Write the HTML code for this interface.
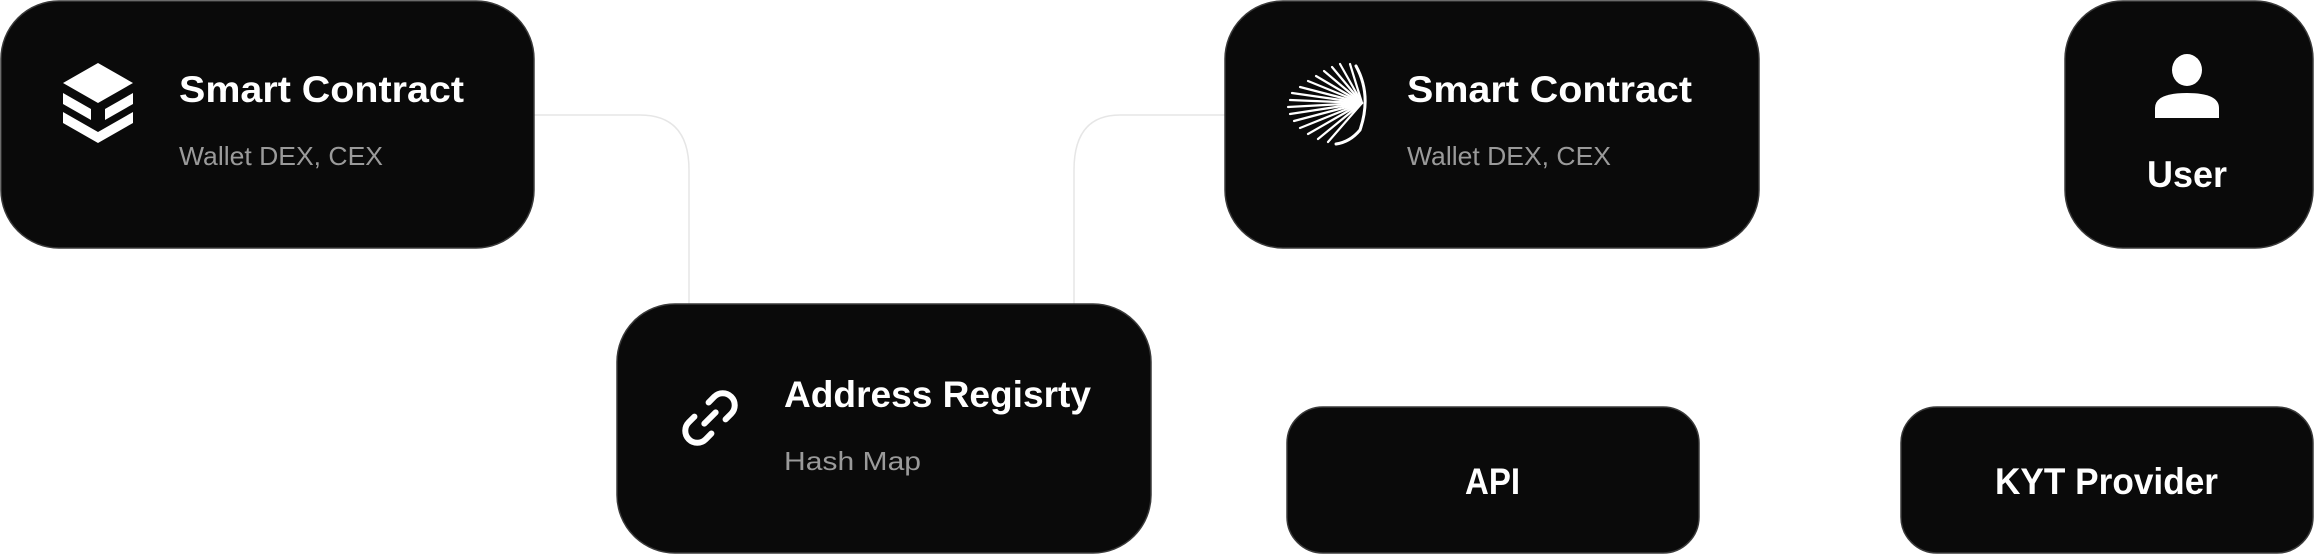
<!DOCTYPE html>
<html><head><meta charset="utf-8"><style>
html,body{margin:0;padding:0;background:#fff;}
svg{display:block;}
text{font-family:"Liberation Sans",sans-serif;}
.t{fill:#fff;font-size:37px;font-weight:bold;}
.s{fill:#9a9a9a;font-size:26px;}
</style></head><body>
<svg width="2314" height="554" viewBox="0 0 2314 554" xmlns="http://www.w3.org/2000/svg">
<!-- connectors -->
<path d="M534 115 H640 Q689 115 689 170 V304" fill="none" stroke="#e6e6e6" stroke-width="1.5"/>
<path d="M1225 115 H1120 Q1074 115 1074 170 V304" fill="none" stroke="#e6e6e6" stroke-width="1.5"/>
<!-- boxes -->
<g fill="#0a0a0a" stroke="#3a3a3a" stroke-width="1.5">
<rect x="1" y="1" width="533" height="247" rx="58"/>
<rect x="617" y="304" width="534" height="249" rx="58"/>
<rect x="1225" y="1" width="534" height="247" rx="58"/>
<rect x="2065" y="1" width="248" height="247" rx="58"/>
<rect x="1287" y="407" width="412" height="146" rx="36"/>
<rect x="1901" y="407" width="412" height="146" rx="36"/>
</g>
<!-- icon 1: layers -->
<g fill="#fff">
<polygon points="98,63 133,83 98,103 63,83"/>
<polygon points="63,93 91,109 91,120 63,104"/>
<polygon points="133,93 105,109 105,120 133,104"/>
<polygon points="63,112 98,132 133,112 133,123 98,143 63,123"/>
</g>
<!-- icon 2: sunburst -->
<g stroke="#fff" stroke-width="2.2" stroke-linecap="round">
<line x1="1362" y1="103" x2="1350" y2="64"/>
<line x1="1362" y1="103" x2="1340" y2="64"/>
<line x1="1362" y1="103" x2="1332" y2="67"/>
<line x1="1362" y1="103" x2="1324" y2="71"/>
<line x1="1362" y1="103" x2="1316" y2="76"/>
<line x1="1362" y1="103" x2="1308" y2="81"/>
<line x1="1362" y1="103" x2="1300" y2="87"/>
<line x1="1362" y1="103" x2="1292" y2="93"/>
<line x1="1362" y1="103" x2="1290" y2="100"/>
<line x1="1362" y1="103" x2="1288" y2="107"/>
<line x1="1362" y1="103" x2="1290" y2="114"/>
<line x1="1362" y1="103" x2="1294" y2="121"/>
<line x1="1362" y1="103" x2="1300" y2="128"/>
<line x1="1362" y1="103" x2="1308" y2="134"/>
<line x1="1362" y1="103" x2="1318" y2="139"/>
<line x1="1362" y1="103" x2="1328" y2="142"/>
<path d="M1356 66 Q1372 95 1360 130 Q1350 142 1336 144" fill="none" stroke-width="3"/>
</g>
<!-- icon 3: link -->
<g fill="none" stroke="#fff" stroke-width="6" stroke-linecap="round" transform="rotate(-45 710 418)">
<path d="M700 406 H692 A12 12 0 0 0 692 430 H700"/>
<path d="M720 406 H728 A12 12 0 0 1 728 430 H720"/>
<line x1="702" y1="418" x2="718" y2="418"/>
</g>
<!-- icon 4: user -->
<g fill="#fff">
<ellipse cx="2187" cy="70" rx="15" ry="16"/>
<path d="M2155 118 V108 Q2155 93 2187 93 Q2219 93 2219 108 V118 Z"/>
</g>
<!-- text -->
<text class="t" x="179" y="102" textLength="285" lengthAdjust="spacingAndGlyphs">Smart Contract</text>
<text class="s" x="179" y="165" textLength="204" lengthAdjust="spacingAndGlyphs">Wallet DEX, CEX</text>
<text class="t" x="1407" y="102" textLength="285" lengthAdjust="spacingAndGlyphs">Smart Contract</text>
<text class="s" x="1407" y="165" textLength="204" lengthAdjust="spacingAndGlyphs">Wallet DEX, CEX</text>
<text class="t" x="784" y="407" textLength="307" lengthAdjust="spacingAndGlyphs">Address Regisrty</text>
<text class="s" x="784" y="470" textLength="137" lengthAdjust="spacingAndGlyphs">Hash Map</text>
<text class="t" x="2147" y="187" textLength="80" lengthAdjust="spacingAndGlyphs">User</text>
<text class="t" x="1465" y="494" textLength="55" lengthAdjust="spacingAndGlyphs">API</text>
<text class="t" x="1995" y="494" textLength="223" lengthAdjust="spacingAndGlyphs">KYT Provider</text>
</svg>
</body></html>
